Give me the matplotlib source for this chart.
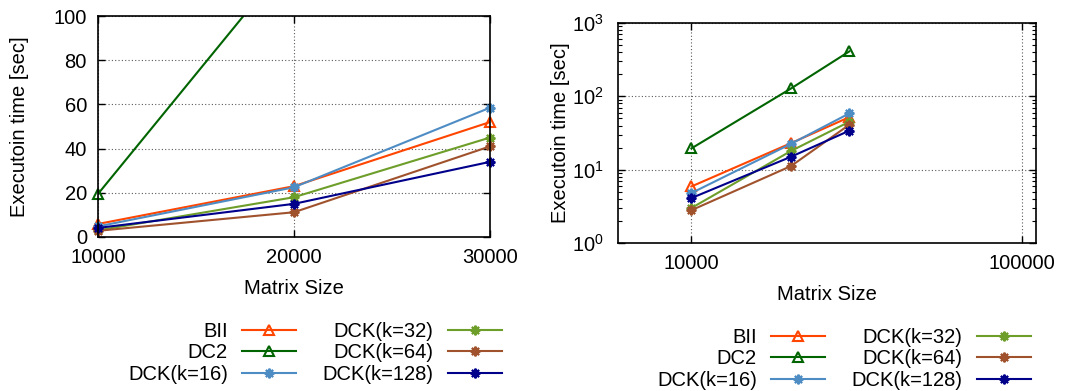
import matplotlib
matplotlib.use("Agg")
import matplotlib.pyplot as plt
from matplotlib.lines import Line2D

plt.rcParams['font.family'] = ['Liberation Sans', 'DejaVu Sans']
plt.rcParams['font.size'] = 14.5

# ---- data ----
matrix_sizes = [10000, 20000, 30000]
series_names = ["BII", "DC2", "DCK(k=16)", "DCK(k=32)", "DCK(k=64)", "DCK(k=128)"]
bii = [5.9, 23.0, 52.0]
dc2 = [19.5, 128.0, 410.0]
dck16 = [4.8, 22.5, 58.5]
dck32 = [3.0, 18.0, 45.0]
dck64 = [2.8, 11.2, 41.0]
dck128 = [4.1, 15.0, 34.0]
left_xticks = [10000, 20000, 30000]
left_yticks = [0, 20, 40, 60, 80, 100]

values = [bii, dc2, dck16, dck32, dck64, dck128]
colors = ["#FF4500", "#006400", "#4E8CC4", "#6E9E2A", "#A0522D", "#00008B"]
ast = (8, 2, 0)
markers = ["^", "^", ast, ast, ast, ast]

fig = plt.figure(figsize=(10.81, 3.91), dpi=100)
axL = fig.add_axes([98/1081, 1-237/391, (490-98)/1081, (237-16)/391])
axR = fig.add_axes([618/1081, 1-243/391, (1036-618)/1081, (243-23)/391])

def style(ax, ypad):
    ax.tick_params(which='both', direction='in', top=True, right=True)
    ax.tick_params(which='major', length=5, width=1)
    ax.tick_params(axis='x', which='major', pad=8)
    ax.tick_params(axis='y', which='major', pad=ypad)
    ax.tick_params(which='minor', length=3, width=0.8)
    for s in ax.spines.values():
        s.set_linewidth(1.2)
    ax.grid(True, which='major', color='0.35', linestyle=(0, (1, 2)), linewidth=0.8)
    ax.set_axisbelow(True)

axL.set_xlim(10000, 30000)
axL.set_ylim(0, 100)
axR.set_xscale('log')
axR.set_yscale('log')
axR.set_xlim(6000, 110000)
axR.set_ylim(1, 1000)

handles = []
for vals, c, m, name in zip(values, colors, markers, series_names):
    mkw = dict(marker=m, markersize=7, markeredgewidth=1.5,
               markeredgecolor=c, markerfacecolor='none' if m == "^" else c)
    for ax in (axL, axR):
        ax.plot(matrix_sizes, vals, color=c, linewidth=1.5, clip_on=True)
        y0, y1 = ax.get_ylim()
        px = [x for x, v in zip(matrix_sizes, vals) if y0 <= v <= y1]
        pv = [v for v in vals if y0 <= v <= y1]
        ax.plot(px, pv, linestyle='none', clip_on=False, **mkw)
    handles.append(Line2D([], [], color=c, linewidth=1.5, label=name, **mkw))

# left
axL.set_xticks(left_xticks)
axL.set_xticklabels([str(t) for t in left_xticks])
axL.set_yticks(left_yticks)
style(axL, 8)
axL.set_xlabel("Matrix Size", va='center')
axL.xaxis.set_label_coords(0.5, (237-288)/221)
axL.set_ylabel("Executoin time [sec]", va='center')
axL.yaxis.set_label_coords((20-98)/392, 0.5)

# right
axR.set_xticks([10000, 100000])
axR.set_xticklabels(["10000", "100000"])
axR.xaxis.set_minor_locator(matplotlib.ticker.NullLocator())
style(axR, 10)
axR.set_xlabel("Matrix Size", va='center')
axR.xaxis.set_label_coords(0.5, (243-295)/220)
axR.set_ylabel("Executoin time [sec]", va='center')
axR.yaxis.set_label_coords((561-618)/418, 0.5)

legkw = dict(ncol=2, markerfirst=False, frameon=False, borderpad=0, borderaxespad=0,
             handlelength=2.7, handletextpad=0.7, columnspacing=1.3, labelspacing=0.12,
             fontsize=14.5, loc='upper right')
fig.legend(handles=handles, bbox_to_anchor=(502/1081, 1-322/391), **legkw)
fig.legend(handles=handles, bbox_to_anchor=(1031/1081, 1-328/391), **legkw)

fig.savefig("out.png", dpi=100)
